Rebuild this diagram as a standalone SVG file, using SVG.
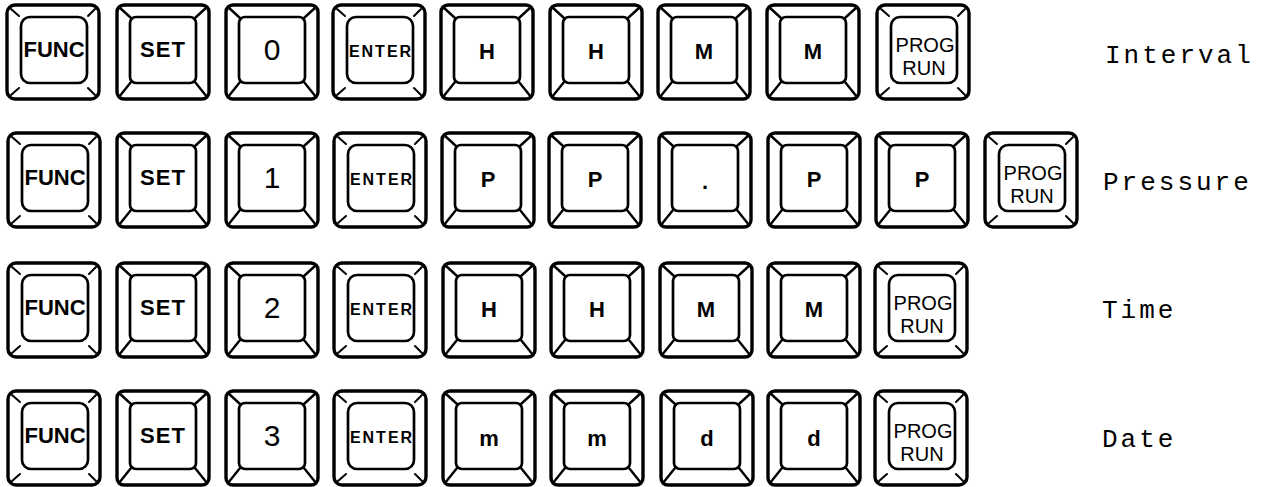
<svg xmlns="http://www.w3.org/2000/svg" xmlns:xlink="http://www.w3.org/1999/xlink" width="1274" height="487" viewBox="0 0 1274 487">
<style>
.o{fill:#fff;stroke:#000;stroke-width:3.4}
.i{fill:none;stroke:#000;stroke-width:2.7}
.d{stroke:#000;stroke-width:2.4;stroke-linecap:round}
.t{stroke:#000;stroke-width:2;stroke-linecap:round}
.k{font-family:"Liberation Sans",Arial,sans-serif;font-weight:bold;font-size:22px;text-anchor:middle;fill:#000}
.dg{font-family:"Liberation Sans",Arial,sans-serif;font-size:30px;text-anchor:middle;fill:#000}
.en{font-family:"Liberation Sans",Arial,sans-serif;font-weight:bold;font-size:16px;letter-spacing:2px;text-anchor:middle;fill:#000}
.pr{font-family:"Liberation Sans",Arial,sans-serif;font-size:20px;text-anchor:middle;fill:#000}
.lb{font-family:"Liberation Mono","Courier New",monospace;font-size:26px;letter-spacing:3px;fill:#000}
</style>
<defs>
<g id="bevel">
<rect class="o" x="0" y="0" width="92" height="94" rx="7"/>
<rect class="i" x="13" y="12" width="66" height="66" rx="6"/>
<line class="d" x1="2" y1="2" x2="14" y2="13"/>
<line class="d" x1="90" y1="2" x2="78" y2="13"/>
<line class="d" x1="2" y1="92" x2="14" y2="77"/>
<line class="d" x1="90" y1="92" x2="78" y2="77"/>
</g>
<g id="flat">
<rect class="o" x="0" y="0" width="92" height="94" rx="8"/>
<rect class="i" x="14" y="12" width="66" height="66" rx="9"/>
<line class="t" x1="4" y1="4" x2="12" y2="11"/>
<line class="t" x1="88" y1="4" x2="81" y2="11"/>
<line class="t" x1="4" y1="90" x2="12" y2="83"/>
<line class="t" x1="88" y1="90" x2="81" y2="83"/>
</g>
</defs>
<rect width="1274" height="487" fill="#fff"/>

<!-- Row 1: Interval -->
<g id="r1-func" transform="translate(7,5)"><use xlink:href="#flat"/><text class="k" x="47" y="52">FUNC</text></g>
<g id="r1-set" transform="translate(117,5)"><use xlink:href="#bevel"/><text class="k" x="46" y="52" letter-spacing="1">SET</text></g>
<g id="r1-0" transform="translate(226,5)"><use xlink:href="#bevel"/><text class="dg" x="46" y="55">0</text></g>
<g id="r1-enter" transform="translate(333,5)"><use xlink:href="#flat"/><text class="en" x="48" y="52">ENTER</text></g>
<g id="r1-h1" transform="translate(441,5)"><use xlink:href="#bevel"/><text class="k" x="46" y="54">H</text></g>
<g id="r1-h2" transform="translate(550,5)"><use xlink:href="#bevel"/><text class="k" x="46" y="54">H</text></g>
<g id="r1-m1" transform="translate(658,5)"><use xlink:href="#bevel"/><text class="k" x="46" y="54">M</text></g>
<g id="r1-m2" transform="translate(767,5)"><use xlink:href="#bevel"/><text class="k" x="46" y="54">M</text></g>
<g id="r1-prog" transform="translate(877,5)"><use xlink:href="#flat"/><text class="pr" x="48" y="46.5">PROG</text><text class="pr" x="47" y="69.5">RUN</text></g>
<text id="l-interval" class="lb" x="1105" y="63">Interval</text>

<!-- Row 2: Pressure -->
<g id="r2-func" transform="translate(8,133)"><use xlink:href="#flat"/><text class="k" x="47" y="52">FUNC</text></g>
<g id="r2-set" transform="translate(117,133)"><use xlink:href="#bevel"/><text class="k" x="46" y="52" letter-spacing="1">SET</text></g>
<g id="r2-1" transform="translate(226,133)"><use xlink:href="#bevel"/><text class="dg" x="46" y="55">1</text></g>
<g id="r2-enter" transform="translate(334,133)"><use xlink:href="#flat"/><text class="en" x="48" y="52">ENTER</text></g>
<g id="r2-p1" transform="translate(442,133)"><use xlink:href="#bevel"/><text class="k" x="46" y="54">P</text></g>
<g id="r2-p2" transform="translate(549,133)"><use xlink:href="#bevel"/><text class="k" x="46" y="54">P</text></g>
<g id="r2-dot" transform="translate(659,133)"><use xlink:href="#bevel"/><text class="k" x="46" y="56" font-size="26">.</text></g>
<g id="r2-p3" transform="translate(768,133)"><use xlink:href="#bevel"/><text class="k" x="46" y="54">P</text></g>
<g id="r2-p4" transform="translate(876,133)"><use xlink:href="#bevel"/><text class="k" x="46" y="54">P</text></g>
<g id="r2-prog" transform="translate(985,133)"><use xlink:href="#flat"/><text class="pr" x="48" y="46.5">PROG</text><text class="pr" x="47" y="69.5">RUN</text></g>
<text id="l-pressure" class="lb" x="1103" y="190">Pressure</text>

<!-- Row 3: Time -->
<g id="r3-func" transform="translate(8,263)"><use xlink:href="#flat"/><text class="k" x="47" y="52">FUNC</text></g>
<g id="r3-set" transform="translate(117,263)"><use xlink:href="#bevel"/><text class="k" x="46" y="52" letter-spacing="1">SET</text></g>
<g id="r3-2" transform="translate(226,263)"><use xlink:href="#bevel"/><text class="dg" x="46" y="55">2</text></g>
<g id="r3-enter" transform="translate(334,263)"><use xlink:href="#flat"/><text class="en" x="48" y="52">ENTER</text></g>
<g id="r3-h1" transform="translate(443,263)"><use xlink:href="#bevel"/><text class="k" x="46" y="54">H</text></g>
<g id="r3-h2" transform="translate(551,263)"><use xlink:href="#bevel"/><text class="k" x="46" y="54">H</text></g>
<g id="r3-m1" transform="translate(660,263)"><use xlink:href="#bevel"/><text class="k" x="46" y="54">M</text></g>
<g id="r3-m2" transform="translate(768,263)"><use xlink:href="#bevel"/><text class="k" x="46" y="54">M</text></g>
<g id="r3-prog" transform="translate(875,263)"><use xlink:href="#flat"/><text class="pr" x="48" y="46.5">PROG</text><text class="pr" x="47" y="69.5">RUN</text></g>
<text id="l-time" class="lb" x="1102" y="318">Time</text>

<!-- Row 4: Date -->
<g id="r4-func" transform="translate(8,391)"><use xlink:href="#flat"/><text class="k" x="47" y="52">FUNC</text></g>
<g id="r4-set" transform="translate(117,391)"><use xlink:href="#bevel"/><text class="k" x="46" y="52" letter-spacing="1">SET</text></g>
<g id="r4-3" transform="translate(226,391)"><use xlink:href="#bevel"/><text class="dg" x="46" y="55">3</text></g>
<g id="r4-enter" transform="translate(334,391)"><use xlink:href="#flat"/><text class="en" x="48" y="52">ENTER</text></g>
<g id="r4-m1" transform="translate(443,391)"><use xlink:href="#bevel"/><text class="k" x="46" y="55">m</text></g>
<g id="r4-m2" transform="translate(551,391)"><use xlink:href="#bevel"/><text class="k" x="46" y="55">m</text></g>
<g id="r4-d1" transform="translate(661,391)"><use xlink:href="#bevel"/><text class="k" x="46" y="55">d</text></g>
<g id="r4-d2" transform="translate(768,391)"><use xlink:href="#bevel"/><text class="k" x="46" y="55">d</text></g>
<g id="r4-prog" transform="translate(875,391)"><use xlink:href="#flat"/><text class="pr" x="48" y="46.5">PROG</text><text class="pr" x="47" y="69.5">RUN</text></g>
<text id="l-date" class="lb" x="1102" y="447">Date</text>

<g id="connectors"></g>
</svg>
